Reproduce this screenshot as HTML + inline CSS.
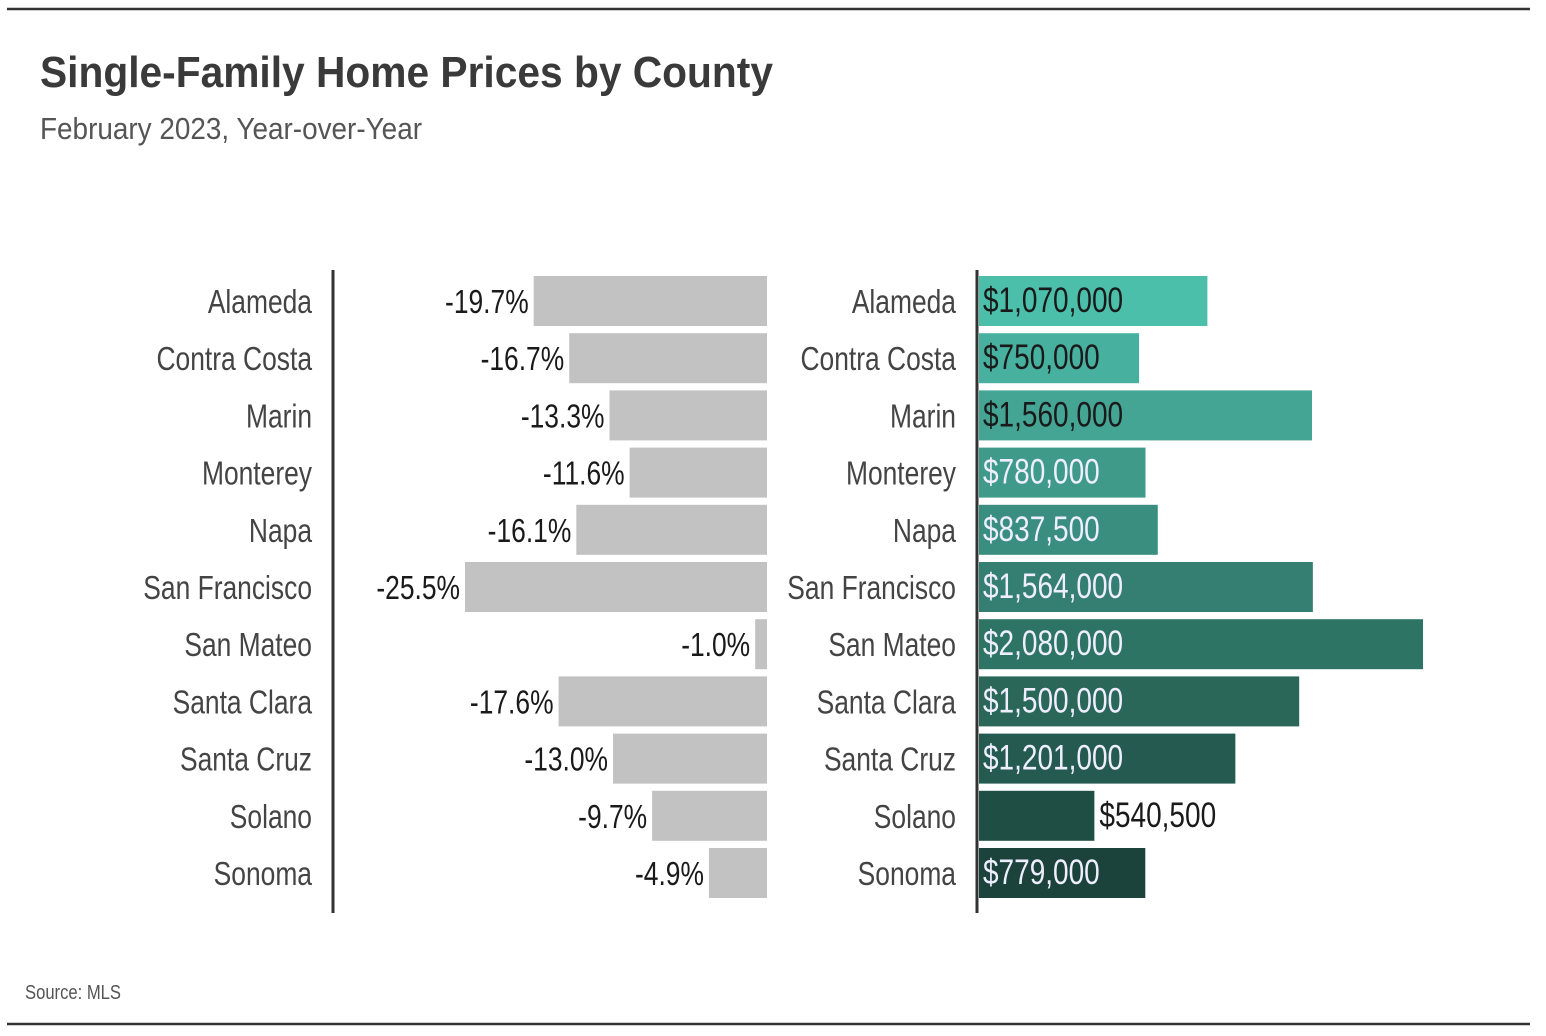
<!DOCTYPE html>
<html><head><meta charset="utf-8"><style>
html,body{margin:0;padding:0;background:#fff;}
svg{display:block;font-family:"Liberation Sans Narrow","Liberation Sans",sans-serif;}
</style></head><body>
<svg id="chart" width="1546" height="1036" viewBox="0 0 1546 1036" xmlns="http://www.w3.org/2000/svg">
<line x1="7" y1="9" x2="1530" y2="9" stroke="#333" stroke-width="2.5"/>
<line x1="7" y1="1024" x2="1530" y2="1024" stroke="#333" stroke-width="2.5"/>
<text x="40" y="87" font-size="44" font-weight="bold" fill="#3a3a3a" textLength="733" lengthAdjust="spacingAndGlyphs">Single-Family Home Prices by County</text>
<text x="40" y="139" font-size="31" fill="#555" textLength="382" lengthAdjust="spacingAndGlyphs">February 2023, Year-over-Year</text>
<text x="25" y="999" font-size="20" fill="#555" textLength="96" lengthAdjust="spacingAndGlyphs">Source: MLS</text>
<g id="left"></g>
<g id="right"></g>
<line x1="333" y1="270" x2="333" y2="913" stroke="#333" stroke-width="3"/>
<line x1="977" y1="270" x2="977" y2="913" stroke="#333" stroke-width="3"/>
</svg>
<script>
const counties = ["Alameda","Contra Costa","Marin","Monterey","Napa","San Francisco","San Mateo","Santa Clara","Santa Cruz","Solano","Sonoma"];
const yoyChange = [-19.7,-16.7,-13.3,-11.6,-16.1,-25.5,-1.0,-17.6,-13.0,-9.7,-4.9];
const medianPrice = [1070000,750000,1560000,780000,837500,1564000,2080000,1500000,1201000,540500,779000];
const priceLabels = ["$1,070,000","$750,000","$1,560,000","$780,000","$837,500","$1,564,000","$2,080,000","$1,500,000","$1,201,000","$540,500","$779,000"];

const NS="http://www.w3.org/2000/svg";
const barColors=["#4cbfaa","#48b09e","#45a595","#3f9a8a","#3a8e7f","#347f71","#2e7465","#2a6759","#245a4f","#1f4e44","#1b433b"];
const labelColors=["#1a1a1a","#1a1a1a","#1a1a1a","#eef","#eef","#eef","#eef","#eef","#eef","#1a1a1a","#eef"];
const rowTop=276, rowStep=57.2, barH=50;
const yPos=i=>rowTop+i*rowStep;
const leftZero=767, pxPerPct=302/25.5;
const xLeft=v=>leftZero-Math.abs(v)*pxPerPct;
const rightZero=979, pxPerDollar=444/2080000;
const xRight=v=>rightZero+v*pxPerDollar;
const SX=0.8;
function txt(parent,x,y,s,anchor,fill,size){
  const t=document.createElementNS(NS,"text");
  t.setAttribute("x",x/SX);t.setAttribute("y",y);
  t.setAttribute("transform","scale("+SX+",1)");
  t.setAttribute("text-anchor",anchor);t.setAttribute("fill",fill);
  t.setAttribute("font-size",size);t.textContent=s;parent.appendChild(t);return t;
}
const L=document.getElementById("left"), R=document.getElementById("right");
counties.forEach((c,i)=>{
  const y=yPos(i), base=y+barH/2+12;
  const l1=txt(L,312,base,c,"end","#444",33);
  
  
  const b=document.createElementNS(NS,"rect");
  const x0=xLeft(yoyChange[i]);
  b.setAttribute("x",x0);b.setAttribute("y",y);b.setAttribute("width",leftZero-x0);b.setAttribute("height",barH);b.setAttribute("fill","#c2c2c2");
  
  
  L.appendChild(b);
  const v=txt(L,x0-5,base,yoyChange[i].toFixed(1)+"%","end","#1a1a1a",33);
  
  
  const l2=txt(R,956,base,c,"end","#444",33);
  
  
  const r=document.createElementNS(NS,"rect");
  const x1=xRight(medianPrice[i]);
  r.setAttribute("x",rightZero);r.setAttribute("y",y);r.setAttribute("width",x1-rightZero);r.setAttribute("height",barH);r.setAttribute("fill",barColors[i]);
  
  
  R.appendChild(r);
  const inside=(x1-rightZero)>150;
  const p=txt(R,inside?rightZero+4:x1+5,base-1,priceLabels[i],"start",inside?labelColors[i]:"#1a1a1a",35);
  
  
});
</script>
</body></html>
